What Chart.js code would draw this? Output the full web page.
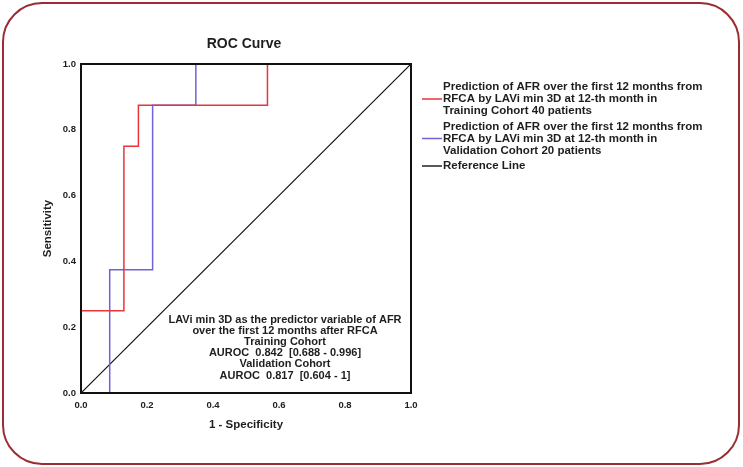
<!DOCTYPE html>
<html>
<head>
<meta charset="utf-8">
<script src="https://cdn.jsdelivr.net/npm/chart.js@4/dist/chart.umd.min.js"></script>
<style>
  html,body{margin:0;padding:0;background:#fff;}
  #wrap{position:relative;width:743px;height:467px;overflow:hidden;}
  #frame{position:absolute;left:2px;top:2px;width:734px;height:459px;
         border:2.5px solid #9b2c31;border-radius:40px;}
  canvas{position:absolute;left:0;top:0;}
</style>
</head>
<body>
<div id="wrap">
  <div id="frame"></div>
  <canvas id="roc" width="743" height="467"></canvas>
</div>
<script>
/* ---------- data ---------- */
const trainFpr = [0, 0,    0.13, 0.13, 0.174, 0.174, 0.565, 0.565, 1];
const trainTpr = [0, 0.25, 0.25, 0.75, 0.75,  0.875, 0.875, 1,     1];
const validFpr = [0, 0.087, 0.087, 0.217, 0.217, 0.348, 0.348, 1];
const validTpr = [0, 0,     0.375, 0.375, 0.875, 0.875, 1,     1];
const refFpr   = [0, 1];
const refTpr   = [0, 1];
const axisTicks = [0, 0.2, 0.4, 0.6, 0.8, 1.0];

const legendItems = [
  { color:'#e8343a', lines:['Prediction of AFR over the first 12 months from',
                            'RFCA by LAVi min 3D at 12-th month in',
                            'Training Cohort 40 patients'] },
  { color:'#6f63d8', lines:['Prediction of AFR over the first 12 months from',
                            'RFCA by LAVi min 3D at 12-th month in',
                            'Validation Cohort 20 patients'] },
  { color:'#222222', lines:['Reference Line'] }
];
const noteLines = [
  'LAVi min 3D as the predictor variable of AFR',
  'over the first 12 months after RFCA',
  'Training Cohort',
  'AUROC  0.842  [0.688 - 0.996]',
  'Validation Cohort',
  'AUROC  0.817  [0.604 - 1]'
];

const pts = (xs, ys) => xs.map((x, i) => ({ x, y: ys[i] }));
const FONT = '"Liberation Sans", Arial, sans-serif';
const INK  = '#1e1e1e';

/* ---------- frame, titles, legend and note ---------- */
const decor = {
  id:'decor',
  afterDraw(chart){
    const { ctx, chartArea:a } = chart;
    ctx.save();
    // box around plot
    ctx.strokeStyle = '#111';
    ctx.lineWidth = 2;
    ctx.strokeRect(a.left, a.top, a.right - a.left, a.bottom - a.top);

    ctx.fillStyle = INK;
    ctx.textAlign = 'center';
    ctx.textBaseline = 'middle';
    ctx.font = 'bold 14px ' + FONT;
    ctx.fillText('ROC Curve', (a.left + a.right) / 2 - 2, 44);

    ctx.font = 'bold 11.5px ' + FONT;
    ctx.fillText('1 - Specificity', (a.left + a.right) / 2, 425);
    ctx.save();
    ctx.translate(48, (a.top + a.bottom) / 2);
    ctx.rotate(-Math.PI / 2);
    ctx.fillText('Sensitivity', 0, 0);
    ctx.restore();

    // note inside plot
    ctx.font = 'bold 11px ' + FONT;
    noteLines.forEach((t, i) => ctx.fillText(t, 285, 320 + i * 11.1));

    // legend
    ctx.textAlign = 'left';
    ctx.font = 'bold 11.5px ' + FONT;
    let y = 87;
    legendItems.forEach(item => {
      const mid = y + (item.lines.length - 1) * 12 / 2;
      ctx.strokeStyle = item.color;
      ctx.lineWidth = 1.5;
      ctx.beginPath();
      ctx.moveTo(422, mid);
      ctx.lineTo(442, mid);
      ctx.stroke();
      item.lines.forEach((t, i) => ctx.fillText(t, 443, y + i * 12));
      y += item.lines.length * 12 + 3.5;
    });
    ctx.restore();
  }
};

new Chart(document.getElementById('roc'), {
  type:'line',
  data:{
    datasets:[
      { label:'Training', data:pts(trainFpr, trainTpr), borderColor:'#e8343a', borderWidth:1.5 },
      { label:'Validation', data:pts(validFpr, validTpr), borderColor:'#6f63d8', borderWidth:1.5 },
      { label:'Reference Line', data:pts(refFpr, refTpr), borderColor:'#111', borderWidth:1.2 }
    ]
  },
  options:{
    responsive:false,
    animation:false,
    parsing:false,
    elements:{ point:{ radius:0 }, line:{ tension:0 } },
    layout:{ padding:{ left:0, right:332, top:64, bottom:0 } },
    plugins:{ legend:{ display:false }, tooltip:{ enabled:false } },
    scales:{
      x:{
        type:'linear', min:0, max:1,
        afterFit(s){ s.height = 74; },
        afterBuildTicks(s){ s.ticks = axisTicks.map(v => ({ value:v })); },
        grid:{ display:false, drawTicks:false },
        border:{ display:false },
        ticks:{ padding:7, color:INK, font:{ family:FONT, size:9.5, weight:'bold' },
                callback:v => v.toFixed(1) }
      },
      y:{
        type:'linear', min:0, max:1,
        afterFit(s){ s.width = 81; },
        afterBuildTicks(s){ s.ticks = axisTicks.map(v => ({ value:v })); },
        grid:{ display:false, drawTicks:false },
        border:{ display:false },
        ticks:{ padding:5, color:INK, font:{ family:FONT, size:9.5, weight:'bold' },
                callback:v => v.toFixed(1) }
      }
    }
  },
  plugins:[decor]
});
</script>
</body>
</html>
